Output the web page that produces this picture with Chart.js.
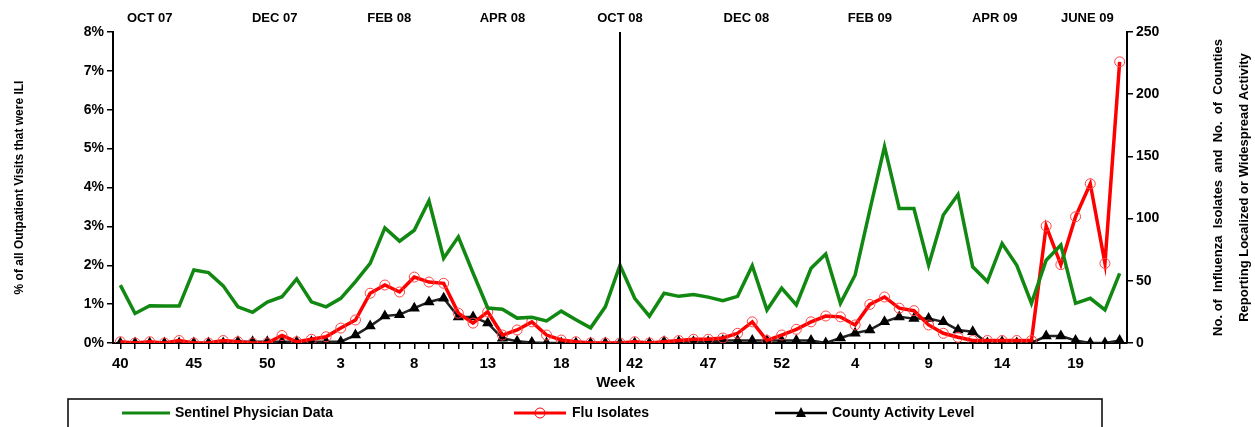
<!DOCTYPE html>
<html><head><meta charset="utf-8">
<script src="https://cdn.jsdelivr.net/npm/chart.js@4"></script>
<style>html,body{margin:0;padding:0;background:#fff}#w{width:1255px;height:427px}</style>
</head><body><div id="w"><canvas id="c"></canvas></div>
<script>
const weeks = [40,41,42,43,44,45,46,47,48,49,50,51,52,1,2,3,4,5,6,7,8,9,10,11,12,13,14,15,16,17,18,19,20,21,
 41,42,43,44,45,46,47,48,49,50,51,52,53,1,2,3,4,5,6,7,8,9,10,11,12,13,14,15,16,17,18,19,20,21,22];
const sentinel = [1.49,0.76,0.96,0.95,0.95,1.88,1.81,1.47,0.93,0.79,1.05,1.19,1.65,1.06,0.93,1.15,1.58,2.05,2.96,2.62,2.9,3.66,2.18,2.73,1.8,0.9,0.87,0.64,0.66,0.57,0.82,0.6,0.39,0.93,
 2.0,1.15,0.69,1.28,1.2,1.25,1.18,1.09,1.2,1.99,0.85,1.41,0.98,1.92,2.29,1.02,1.75,3.42,5.05,3.46,3.46,2.0,3.29,3.82,1.96,1.58,2.56,2.0,1.02,2.13,2.52,1.02,1.15,0.85,1.79];
const isolates = [1,0,1,0,2,0,0,2,1,0,0,6,1,3,5,12,18.5,40,46.6,41,53,49,48,24,16,25,6.4,10.5,17,6.4,2.4,1,0,0,
 0,1,0,1,2,3,3,4,7.8,17,2,6.4,11,17,21.7,21,14.5,31,37,28,26,14.5,7.8,4.6,2,2,2,2,2,94,63,101.5,128,64,226];
const counties = [0,0,0,0,0,0,0,0,1,1,1,1,1,1,1,1,6.4,13.6,21.7,22.8,28,33,36,21,21,16,3.8,1.4,0.5,0,0,0,0,0,
 0,0,0,1,1,1,1,2,2,2,2,2,2,2,0,4,7.8,10.5,17,21,19.6,19.6,17,10.5,9.1,0,1,0,0,5.6,5.6,2,0,0,2];
const monthLabels = [["OCT 07",2],["DEC 07",10.5],["FEB 08",18.3],["APR 08",26],["OCT 08",34],["DEC 08",42.6],["FEB 09",51],["APR 09",59.5],["JUNE 09",65.8]];
const leftTicks = ["0%","1%","2%","3%","4%","5%","6%","7%","8%"];
const F = "'Liberation Sans', Arial, sans-serif";

const deco = {
 id:'deco',
 afterDraw(ch){
  const c=ch.ctx, x=ch.scales.x, a=ch.chartArea;
  c.save();
  c.fillStyle='#000'; c.font='bold 13px '+F; c.textAlign='center'; c.textBaseline='middle';
  monthLabels.forEach(m=>c.fillText(m[0], x.getPixelForValue(m[1]), 18));
  const lx=x.getPixelForValue(34);
  c.strokeStyle='#000'; c.lineWidth=2; c.beginPath(); c.moveTo(lx,a.top); c.lineTo(lx,372); c.stroke();
  c.font='bold 15px '+F; c.fillText('Week', x.getPixelForValue(33.7), 383);
  c.font='bold 12px '+F;
  c.save(); c.translate(20,(a.top+a.bottom)/2); c.rotate(-Math.PI/2); c.fillText('% of all Outpatient Visits that were ILI',0,0); c.restore();
  c.font='bold 13px '+F;
  c.save(); c.translate(1218,(a.top+a.bottom)/2); c.rotate(-Math.PI/2); c.fillText('No. of  Influenza  Isolates  and  No.  of  Counties',0,0); c.restore();
  c.save(); c.translate(1244,(a.top+a.bottom)/2); c.rotate(-Math.PI/2); c.fillText('Reporting Localized or Widespread Activity',0,0); c.restore();
  c.lineWidth=1.5; c.strokeRect(68,399,1034,40);
  const y=413; c.textAlign='left'; c.font='bold 14px '+F;
  c.lineWidth=3; c.strokeStyle='#118811'; c.beginPath(); c.moveTo(122,y); c.lineTo(170,y); c.stroke();
  c.fillText('Sentinel Physician Data',175,y);
  c.strokeStyle='#ff0000'; c.beginPath(); c.moveTo(514,y); c.lineTo(566,y); c.stroke();
  c.lineWidth=1; c.beginPath(); c.arc(540,y,5,0,Math.PI*2); c.stroke();
  c.fillText('Flu Isolates',572,y);
  c.strokeStyle='#000'; c.lineWidth=2.5; c.beginPath(); c.moveTo(775,y); c.lineTo(827,y); c.stroke();
  c.beginPath(); c.moveTo(801,y-6); c.lineTo(806,y+4); c.lineTo(796,y+4); c.closePath(); c.fill();
  c.fillText('County Activity Level',832,y);
  c.restore();
 }
};

new Chart(document.getElementById('c'),{
 type:'line',
 data:{labels:weeks.map(String),datasets:[
  {label:'Sentinel Physician Data',data:sentinel,yAxisID:'y',borderColor:'#118811',borderWidth:3.5,pointRadius:0,tension:0},
  {label:'Flu Isolates',data:isolates,yAxisID:'y2',borderColor:'#ff0000',borderWidth:3.5,pointRadius:5,pointBorderWidth:1,pointBackgroundColor:'rgba(0,0,0,0)',pointBorderColor:'#ff4444',tension:0},
  {label:'County Activity Level',data:counties,yAxisID:'y2',borderColor:'#222',backgroundColor:'#000',borderWidth:2.5,pointStyle:'triangle',pointRadius:4,pointBackgroundColor:'#000',pointBorderColor:'#000',tension:0}
 ]},
 options:{
  responsive:true,maintainAspectRatio:false,animation:false,
  layout:{padding:{top:32,left:0,right:0,bottom:54}},
  plugins:{legend:{display:false},tooltip:{enabled:false}},
  scales:{
   x:{offset:true,afterFit(s){s.height=30;},
      border:{color:'#000',width:2},
      grid:{offset:false,drawOnChartArea:false,tickLength:6,color:'#000',lineWidth:1.5},
      ticks:{autoSkip:false,maxRotation:0,color:'#000',font:{family:F,size:15,weight:'bold'},padding:6,
        callback:(v,i)=>i%5===0&&i<=65?weeks[i]:''}},
   y:{position:'left',min:0,max:8,afterFit(s){s.width=113;},
      border:{color:'#000',width:2},
      grid:{drawOnChartArea:false,tickLength:6,color:'#000',lineWidth:1.5},
      ticks:{stepSize:1,color:'#000',font:{family:F,size:14,weight:'bold'},callback:v=>leftTicks[v]}},
   y2:{position:'right',min:0,max:250,afterFit(s){s.width=128;},
      border:{color:'#000',width:2},
      grid:{drawOnChartArea:false,tickLength:6,color:'#000',lineWidth:1.5},
      ticks:{stepSize:50,color:'#000',font:{family:F,size:14,weight:'bold'}}}
  }
 },
 plugins:[deco]
});
</script></body></html>
